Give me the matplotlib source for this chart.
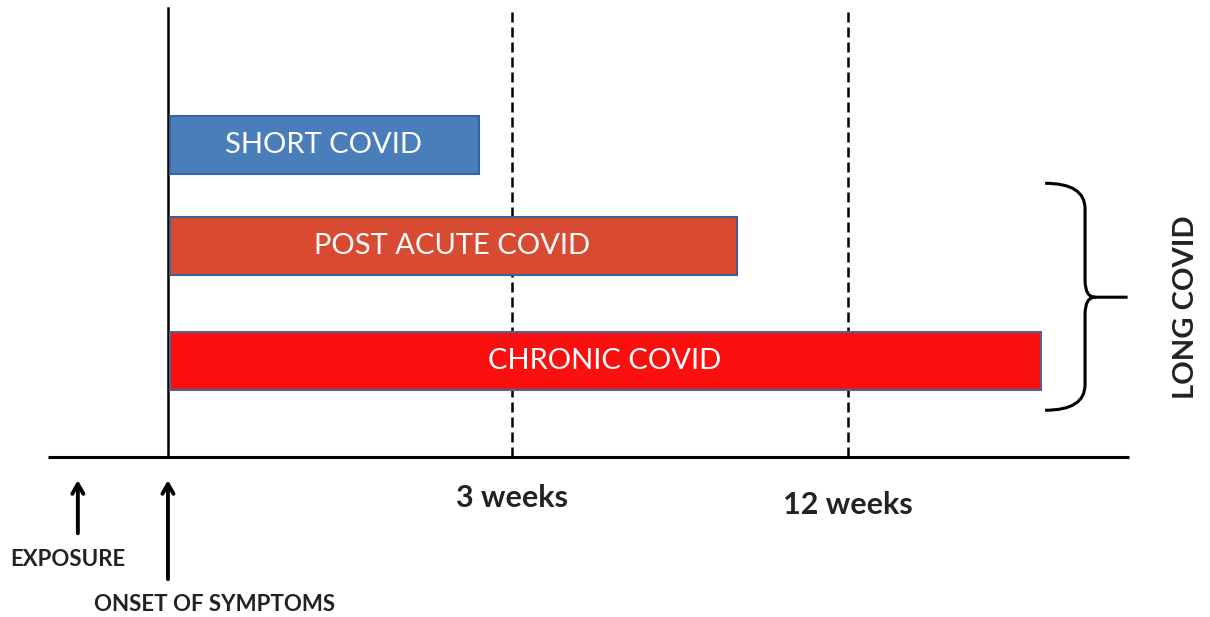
import numpy as np
import matplotlib.pyplot as plt
from matplotlib.path import Path
from matplotlib.patches import PathPatch

plt.rcParams['font.family'] = ['Lato', 'DejaVu Sans']

# timeline in diagram units, onset of symptoms = 0
categories = ['SHORT COVID', 'POST ACUTE COVID', 'CHRONIC COVID']
bar_end = [3.66, 6.69, 10.27]
bar_row = [3.67, 2.48, 1.13]
bar_colors = ['#4a7ebb', '#d94a33', '#fb1010']
edge_colors = ['#3a64a0', '#3f5f94', '#4a6592']

marks = ['3 weeks', '12 weeks']
mark_x = [4.05, 8.0]
mark_label_y = [-0.48, -0.57]

exposure_x = -1.06
onset_x = 0.0

fig = plt.figure(figsize=(12.1, 6.17), dpi=100)
ax = fig.add_axes([0, 0, 1, 1])
ax.set_xlim(-1.976, 12.26)
ax.set_ylim(-1.882, 5.376)
ax.axis('off')

# time axis + onset line
ax.plot([-1.41, 11.31], [0, 0], color='black', lw=2.2, solid_capstyle='butt')
ax.plot([onset_x, onset_x], [0, 5.28], color='black', lw=1.8)

# dashed week markers (behind the bars)
for x, lab, ly in zip(mark_x, marks, mark_label_y):
    ax.plot([x, x], [0, 5.26], color='black', lw=1.8, linestyle=(0, (4, 2)), zorder=1)
    ax.text(x + 0.0, ly, lab, ha='center', va='center', fontsize=22, fontweight='bold', color='#222222')

# bars
for name, end, row, c, ec in zip(categories, bar_end, bar_row, bar_colors, edge_colors):
    ax.barh(row, end - 0.02, left=0.02, height=0.68, color=c, edgecolor=ec, linewidth=1.5, zorder=3)
    ax.text(end / 2, row, name, ha='center', va='center', fontsize=21, color='white', zorder=4)

# brace for long covid
top, bot, mid = 3.22, 0.55, 1.88
x0, x1, xt = 10.32, 10.79, 11.29
r = 0.3
verts = [(x0, top), (x1, top), (x1, top - r),
         (x1, mid + 0.2), (x1, mid), (x1 + 0.12, mid), (xt, mid),
         (x1 + 0.12, mid), (x1, mid), (x1, mid - 0.2),
         (x1, bot + r), (x1, bot), (x0, bot)]
codes = [Path.MOVETO, Path.CURVE3, Path.CURVE3,
         Path.LINETO, Path.CURVE3, Path.CURVE3, Path.LINETO,
         Path.MOVETO, Path.CURVE3, Path.CURVE3,
         Path.LINETO, Path.CURVE3, Path.CURVE3]
ax.add_patch(PathPatch(Path(verts, codes), fill=False, lw=2.2, edgecolor='black'))
ax.text(11.98, 1.76, 'LONG COVID', rotation=90, ha='center', va='center', fontsize=21, fontweight='bold', color='#222222')

# arrows
arrow = dict(arrowstyle='->, head_length=0.7, head_width=0.4', lw=2.8, color='black')
ax.annotate('', xy=(exposure_x, -0.24), xytext=(exposure_x, -0.93), arrowprops=arrow)
ax.annotate('', xy=(onset_x, -0.24), xytext=(onset_x, -1.47), arrowprops=arrow)
ax.text(exposure_x - 0.12, -1.2, 'EXPOSURE', ha='center', va='center', fontsize=16, fontweight='bold', color='#222222')
ax.text(onset_x + 0.55, -1.74, 'ONSET OF SYMPTOMS', ha='center', va='center', fontsize=16, fontweight='bold', color='#222222')

plt.savefig('out.png', dpi=100)
